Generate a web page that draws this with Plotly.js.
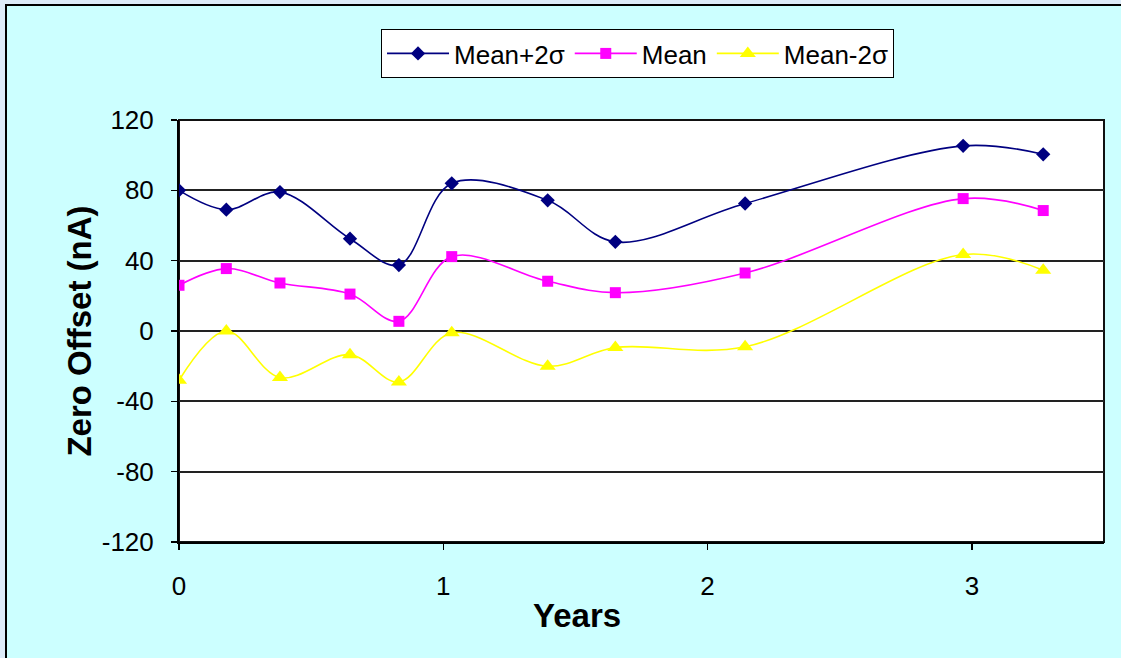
<!DOCTYPE html>
<html>
<head>
<meta charset="utf-8">
<script src="https://cdn.plot.ly/plotly-3.0.1.min.js"></script>
<style>
  html, body { margin: 0; padding: 0; background: #DDEBF8; width: 1121px; height: 658px; overflow: hidden; }
  #wrap { position: absolute; left: 5px; top: 4px; width: 1114px; height: 652px; border-left: 2px solid #000; border-top: 2px solid #000; background: #CCFFFF; }
  #chart { width: 1114px; height: 652px; }
</style>
</head>
<body>
<div id="wrap"><div id="chart"></div></div>
<script>
// Data
const years = [0, 0.179, 0.382, 0.647, 0.832, 1.032, 1.395, 1.651, 2.142, 2.967, 3.270];
const meanPlus2s = [80, 69, 79, 52.5, 37.5, 84, 74.3, 50.7, 72.5, 105.3, 100.5];
const meanVals = [26, 35.5, 27.3, 21, 5.5, 42.3, 28.3, 21.8, 33, 75.3, 68.5];
const meanMinus2s = [-28, 0, -26.5, -13.5, -29, -1, -20, -9.4, -9, 43.5, 34.6];
const seriesNames = ["Mean+2\u03C3", "Mean", "Mean-2\u03C3"];
const yTicks = [-120, -80, -40, 0, 40, 80, 120];
const xTicks = [0, 1, 2, 3];

const font = "Liberation Sans, Arial, sans-serif";

const traces = [
  {
    x: years, y: meanPlus2s, name: seriesNames[0], type: "scatter", mode: "lines+markers",
    line: { color: "#000080", width: 1.6, shape: "spline", smoothing: 1 },
    marker: { symbol: "diamond", size: 11, color: "#000080" }
  },
  {
    x: years, y: meanVals, name: seriesNames[1], type: "scatter", mode: "lines+markers",
    line: { color: "#FF00FF", width: 1.6, shape: "spline", smoothing: 1 },
    marker: { symbol: "square", size: 11, color: "#FF00FF" }
  },
  {
    x: years, y: meanMinus2s, name: seriesNames[2], type: "scatter", mode: "lines+markers",
    line: { color: "#FFFF00", width: 1.6, shape: "spline", smoothing: 1 },
    marker: { symbol: "triangle-up", size: 14, color: "#FFFF00" }
  }
];

const layout = {
  width: 1114, height: 652,
  paper_bgcolor: "#CCFFFF",
  plot_bgcolor: "#FFFFFF",
  margin: { l: 172, r: 17, t: 114, b: 116, pad: 0 },
  font: { family: font, size: 26, color: "#000" },
  showlegend: true,
  legend: {
    orientation: "h", x: 0.4957, xanchor: "center", y: 1.2156, yanchor: "top",
    bgcolor: "#FFFFFF", bordercolor: "#000", borderwidth: 1,
    font: { family: font, size: 26, color: "#000" },
    itemwidth: 62, traceorder: "normal"
  },
  xaxis: {
    range: [0, 3.5], tickvals: xTicks, ticktext: xTicks.map(String),
    showgrid: false, zeroline: false,
    showline: true, linecolor: "#000", linewidth: 2, mirror: false,
    ticks: "outside", ticklen: 6, tickcolor: "#000", tickwidth: 1.5,
    ticklabelstandoff: 14,
    tickfont: { family: font, size: 26, color: "#000" },
    automargin: false, fixedrange: true
  },
  yaxis: {
    range: [-120, 120], tickvals: yTicks, ticktext: yTicks.map(String),
    showgrid: true, gridcolor: "#222222", gridwidth: 2,
    zeroline: false,
    showline: true, linecolor: "#000", linewidth: 2, mirror: false,
    ticks: "outside", ticklen: 6, tickcolor: "#000", tickwidth: 1.5,
    ticklabelstandoff: 12,
    tickfont: { family: font, size: 26, color: "#000" },
    title: { text: "Zero Offset (nA)", font: { family: font, size: 33, color: "#000", weight: "bold" }, standoff: 0 },
    automargin: false, fixedrange: true
  },
  shapes: [
    { type: "rect", xref: "paper", yref: "paper", x0: 0, x1: 1, y0: 0, y1: 1,
      line: { color: "#111111", width: 2 }, fillcolor: "rgba(0,0,0,0)", layer: "below" }
  ],
  annotations: [
    { text: "<b>Years</b>", xref: "paper", yref: "paper", x: 0.4308, y: -0.173,
      xanchor: "center", yanchor: "middle", showarrow: false,
      font: { family: font, size: 33, color: "#000" } }
  ]
};

Plotly.newPlot("chart", traces, layout, { displayModeBar: false, staticPlot: true });
</script>
</body>
</html>
